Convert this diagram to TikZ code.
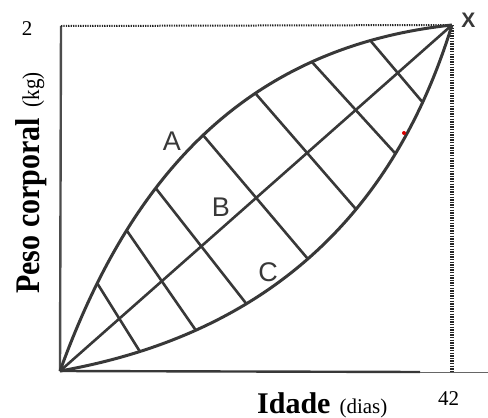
\documentclass[tikz,border=0pt]{standalone}
\usepackage{fontspec}
\setmainfont{Liberation Serif}
\newfontfamily\lblsans{Liberation Sans}
\begin{document}
\begin{tikzpicture}[x=1pt,y=-1pt,
  curve/.style={line width=3pt,draw=black!78},
  grid/.style={line width=2.6pt,draw=black!78},
  letter/.style={font=\lblsans\fontsize{27}{27}\selectfont,text=black!78,inner sep=0pt},
  numlbl/.style={font=\fontsize{21}{21}\selectfont,inner sep=0pt,anchor=base},
]
\useasboundingbox (0,0) rectangle (488,418);
\coordinate (O) at (60,371);
\coordinate (X) at (452,25);
\coordinate (TL) at (61,26);
\coordinate (BR) at (452,372);
\coordinate (XE) at (488,372);
\coordinate (XM) at (420,372);
% axes
\draw[line width=2.4pt,black!70] (TL) -- (O);
\draw[line width=2pt,black!85,dash pattern=on 1.3pt off 1.1pt] (TL) -- (X);
\draw[line width=3.4pt,black!85,dash pattern=on 1.4pt off 1.2pt] (X) -- (BR);
\draw[line width=2.4pt,black!78] (O) -- (XM);
\draw[line width=1pt,black!60] (XM) -- (XE);
% curves
\draw[curve] (O) .. controls (127.9,183.7) and (240.0,47.7) .. (X)
  coordinate[pos=0.164] (u1) coordinate[pos=0.273] (u2) coordinate[pos=0.368] (u3)
  coordinate[pos=0.503] (u4) coordinate[pos=0.631] (u5) coordinate[pos=0.752] (u6)
  coordinate[pos=0.863] (u7);
\draw[curve] (O) .. controls (261.4,335.3) and (392.0,220.3) .. (X)
  coordinate[pos=0.139] (l1) coordinate[pos=0.246] (l2) coordinate[pos=0.352] (l3)
  coordinate[pos=0.497] (l4) coordinate[pos=0.629] (l5) coordinate[pos=0.756] (l6)
  coordinate[pos=0.86] (l7);
\draw[grid] (O) -- (X);
\foreach \i in {1,...,7}{\draw[grid] (u\i) -- (l\i);}
% red dot
\fill[red!85!black] (404,133) circle (2pt);
% letters
\node[letter] (A) at (172,141) {A};
\node[letter] (B) at (221,207.5) {B};
\node[letter] (C) at (268,272) {C};
\node[letter,font=\lblsans\bfseries\fontsize{21}{21}\selectfont] (Xl) at (468.5,20.5) {X};
% axis labels
\node[numlbl] (two) at (27,35) {2};
\node[numlbl] (fortytwo) at (448.5,405) {42};
\node[anchor=base west,inner sep=0pt] (xlab) at (257,413)
  {{\bfseries\fontsize{30}{30}\selectfont Idade}\hspace{9pt}{\fontsize{21}{21}\selectfont(dias)}};
\node[anchor=base west,inner sep=0pt,rotate=90] (ylab) at (39,294)
  {\scalebox{1}[1.15]{{\bfseries\fontsize{30}{30}\selectfont Peso corporal}\hspace{11pt}{\fontsize{21}{21}\selectfont(kg)}}};
\end{tikzpicture}
\end{document}
